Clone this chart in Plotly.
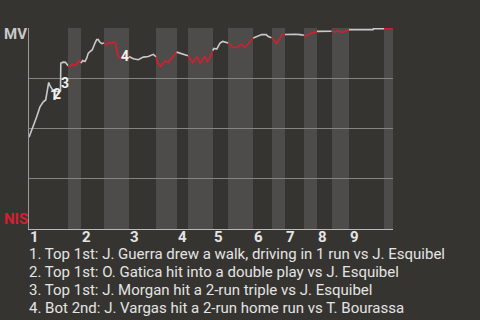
import plotly.graph_objects as go

# ---- data ----
event_x = [0, 4, 7.7, 11, 14.3, 16.7, 18.3, 19.7, 21.5, 23.7, 27, 29.5, 31.5, 31.8, 34, 36.5, 39,
           41, 43.3, 46, 48.3, 50, 52, 53.7, 56, 57.7, 59.3, 61, 63.3, 66, 67.7, 69.3, 70.3, 72.7, 75,
           77.7, 80.3, 82, 84.3, 86.7, 88.3, 90, 92.7, 96, 98, 100, 104.3, 109.3, 114.3, 119.3, 124.3, 127,
           128.3, 131.7, 134.3, 136.7, 139.3, 141.7, 144.3, 147.7, 151, 154.3, 159, 161, 163.7, 166, 168.3,
           171, 173.7, 176, 178.3, 181, 183.7, 185, 187.7, 189.3, 191, 193.7, 197, 199.3, 201, 204.3, 208.3,
           211.7, 216, 219.3, 222.7, 224.3, 227.7, 232.7, 237, 239.3, 242.5, 244.3, 247.7, 251, 253.3, 256,
           261, 266, 271, 275, 277, 279.3, 282.7, 286, 288, 302.7, 306, 309.3, 312.7, 316, 320, 344, 344.5,
           355, 364]
win_prob_mv = [0.457, 0.507, 0.558, 0.608, 0.633, 0.642, 0.692, 0.729, 0.708, 0.692, 0.687, 0.682, 0.687,
               0.825, 0.830, 0.829, 0.812, 0.808, 0.820, 0.812, 0.825, 0.837, 0.825, 0.838, 0.833, 0.850,
               0.875, 0.883, 0.892, 0.925, 0.942, 0.942, 0.933, 0.922, 0.925, 0.917, 0.928, 0.922, 0.930,
               0.922, 0.875, 0.854, 0.850, 0.857, 0.857, 0.858, 0.847, 0.842, 0.855, 0.858, 0.869, 0.857,
               0.828, 0.808, 0.822, 0.838, 0.828, 0.842, 0.862, 0.880, 0.875, 0.867, 0.862, 0.845, 0.828,
               0.845, 0.855, 0.825, 0.845, 0.858, 0.833, 0.850, 0.888, 0.898, 0.895, 0.908, 0.925, 0.933,
               0.928, 0.925, 0.917, 0.903, 0.903, 0.920, 0.903, 0.922, 0.942, 0.950, 0.958, 0.967, 0.967,
               0.958, 0.952, 0.944, 0.922, 0.945, 0.967, 0.968, 0.969, 0.969, 0.967, 0.964, 0.959, 0.969,
               0.974, 0.979, 0.983, 0.984, 0.980, 0.987, 0.978, 0.983, 0.992, 0.992, 0.997, 0.997, 0.999]
half_inning_bounds = [0, 39, 52, 75, 100, 127, 148, 159, 184, 199, 224, 243, 256, 275, 288, 303, 320, 355, 364]
inning_labels = ["1", "2", "3", "4", "5", "6", "7", "8", "9"]
key_labels = ["1", "2", "3", "4"]
key_x = [25, 28, 36, 96]
key_y = [0.667, 0.672, 0.726, 0.861]
key_texts = [
    "1. Top 1st: J. Guerra drew a walk, driving in 1 run vs J. Esquibel",
    "2. Top 1st: O. Gatica hit into a double play vs J. Esquibel",
    "3. Top 1st: J. Morgan hit a 2-run triple vs J. Esquibel",
    "4. Bot 2nd: J. Vargas hit a 2-run home run vs T. Bourassa",
]
team_top, team_bottom = "MV", "NIS"

# ---- style ----
BG = "#363430"
BAND = "#4d4c4a"
GRAY = "#c9c9c9"
RED = "#d51f2f"
TEXT = "#e4e4e4"
FONT = "Roboto"

W, H = 480, 320
L, R, T, B = 29, 87, 28, 91
plot_h = H - T - B


def paper_y(py):
    return (H - B - py) / plot_h


def paper_x(px):
    return (px - L) / (W - L - R)


def half_index(x):
    for i in range(len(half_inning_bounds) - 1):
        if x <= half_inning_bounds[i + 1]:
            return i
    return len(half_inning_bounds) - 2


fig = go.Figure()

# group segments by half-inning colour
groups = []
for j in range(len(event_x) - 1):
    mid = (event_x[j] + event_x[j + 1]) / 2
    col = RED if half_index(mid) % 2 == 1 else GRAY
    if groups and groups[-1][0] == col:
        groups[-1][1].append(j + 1)
    else:
        groups.append([col, [j, j + 1]])
for col, idx in groups:
    fig.add_trace(go.Scatter(x=[event_x[i] for i in idx], y=[win_prob_mv[i] for i in idx],
                             mode="lines", line=dict(color=col, width=1.6),
                             hoverinfo="skip", showlegend=False))

shapes = []
for i in range(1, len(half_inning_bounds) - 1, 2):
    shapes.append(dict(type="rect", xref="x", yref="y", x0=half_inning_bounds[i],
                       x1=half_inning_bounds[i + 1], y0=0, y1=1, fillcolor=BAND,
                       line=dict(width=0), layer="below"))

annotations = []
for k, lab in enumerate(inning_labels):
    annotations.append(dict(x=half_inning_bounds[2 * k], y=paper_y(237), xref="x", yref="paper",
                            text=f"<b>{lab}</b>", showarrow=False, xanchor="left", yanchor="middle",
                            xshift=-1, font=dict(family=FONT, size=15, color=TEXT)))
for lab, x, y in zip(key_labels, key_x, key_y):
    annotations.append(dict(x=x, y=y, xref="x", yref="y", text=f"<b>{lab}</b>", showarrow=False,
                            font=dict(family=FONT, size=14, color="#f2f2f2")))
annotations.append(dict(x=paper_x(2), y=paper_y(33.5), xref="paper", yref="paper",
                        text=f"<b>{team_top}</b>", showarrow=False, xanchor="left", yanchor="middle",
                        font=dict(family=FONT, size=15, color=GRAY)))
annotations.append(dict(x=paper_x(2), y=paper_y(219), xref="paper", yref="paper",
                        text=f"<b>{team_bottom}</b>", showarrow=False, xanchor="left", yanchor="middle",
                        font=dict(family=FONT, size=15, color=RED)))
for k, t in enumerate(key_texts):
    annotations.append(dict(x=paper_x(27), y=paper_y(254 + 18 * k), xref="paper", yref="paper",
                            text=t, showarrow=False, xanchor="left", yanchor="middle",
                            font=dict(family=FONT, size=15, color=TEXT)))

fig.update_layout(
    width=W, height=H, margin=dict(l=L, r=R, t=T, b=B),
    paper_bgcolor=BG, plot_bgcolor=BG,
    shapes=shapes, annotations=annotations,
    xaxis=dict(range=[0, 364], showgrid=False, zeroline=False, showticklabels=False, ticks="",
               showline=True, linecolor="#b8b8b8", linewidth=1, fixedrange=True),
    yaxis=dict(range=[0, 1], tickvals=[0, 0.25, 0.5, 0.75, 1], showticklabels=False, ticks="",
               showgrid=True, gridcolor="#858482", gridwidth=1, zeroline=False,
               showline=True, linecolor="#9a9a9a", linewidth=1, fixedrange=True),
    font=dict(family=FONT),
)

fig.write_html("out.html", config={"displayModeBar": False})
